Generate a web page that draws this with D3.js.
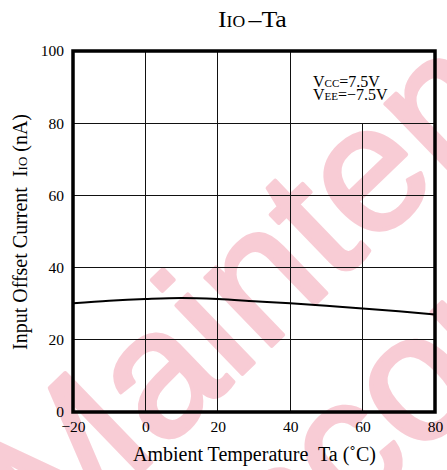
<!DOCTYPE html>
<html><head><meta charset="utf-8">
<script src="https://cdn.jsdelivr.net/npm/d3@7"></script>
<style>
html,body{margin:0;padding:0;background:#fff;}
svg{display:block;}
</style></head>
<body>
<svg id="c" width="447" height="470"></svg>
<script>
const temps = [-20, -10, 0, 10, 20, 30, 40, 50, 60, 70, 80];
const currents = [30.1, 30.8, 31.3, 31.6, 31.3, 30.7, 30.1, 29.4, 28.7, 27.9, 27.0];
const xTicks = [-20, 0, 20, 40, 60, 80];
const yTicks = [0, 20, 40, 60, 80, 100];
const xTickLabels = ["\u221220", "0", "20", "40", "60", "80"];
const yTickLabels = ["0", "20", "40", "60", "80", "100"];
const watermarkLines = ["Maintenance", "Discontinued"];

const SERIF = "'Liberation Serif','Times New Roman',serif";
const SANS = "'Liberation Sans',Arial,sans-serif";
const svg = d3.select("#c");
const L = 73, R = 435, T = 51, B = 412;
const x = d3.scaleLinear().domain([-20, 80]).range([L, R]);
const y = d3.scaleLinear().domain([0, 100]).range([B, T]);

// watermark
const wm = svg.append("g");
const wmOrigins = [[54, 556], [165, 702]];
watermarkLines.forEach((s, i) => {
  wm.append("text")
    .attr("transform", `translate(${wmOrigins[i][0]},${wmOrigins[i][1]}) rotate(-44)`)
    .attr("font-family", SANS).attr("font-size", 180)
    .style("fill", "#f8ccd5").style("stroke", "#f8ccd5").style("stroke-width", 4)
    .style("stroke-linejoin", "round").text(s);
});

// grid
const grid = svg.append("g").attr("stroke", "#111").attr("stroke-width", 1).attr("shape-rendering", "crispEdges");
[0, 20, 40, 60].forEach(v => {
  grid.append("line").attr("x1", x(v)).attr("x2", x(v))
    .attr("y1", B).attr("y2", v === 60 ? y(80) : T);
});
[20, 40, 60, 80].forEach(v => {
  grid.append("line").attr("x1", L).attr("x2", R).attr("y1", y(v)).attr("y2", y(v));
});

// curve
svg.append("path").datum(temps.map((t, i) => [t, currents[i]]))
  .attr("fill", "none").attr("stroke", "#000").attr("stroke-width", 2)
  .attr("d", d3.line().x(d => x(d[0])).y(d => y(d[1])).curve(d3.curveMonotoneX));

// frame
svg.append("rect").attr("x", L).attr("y", T).attr("width", R - L).attr("height", B - T)
  .attr("fill", "none").attr("stroke", "#000").attr("stroke-width", 3.5);

// axes labels using d3 axes
const xAxis = d3.axisBottom(x).tickValues(xTicks).tickSize(0).tickPadding(0)
  .tickFormat((d, i) => xTickLabels[i]);
const gx = svg.append("g").attr("transform", `translate(0,${B + 9})`).call(xAxis);
gx.select(".domain").remove();
gx.selectAll("text").attr("font-size", 15.5).attr("font-family", SERIF).attr("fill", "#000");

const yAxis = d3.axisLeft(y).tickValues(yTicks).tickSize(0).tickPadding(9)
  .tickFormat((d, i) => yTickLabels[i]);
const gy = svg.append("g").attr("transform", `translate(${L},0)`).call(yAxis);
gy.select(".domain").remove();
gy.selectAll("text").attr("font-size", 15.5).attr("font-family", SERIF).attr("fill", "#000");

// title
const title = svg.append("text").attr("transform", "translate(218,26.5) scale(1.1,1)")
  .attr("font-family", SERIF).attr("font-size", 23.5).attr("fill", "#000");
title.append("tspan").text("I");
title.append("tspan").attr("font-size", 16).text("IO");
title.append("tspan").attr("dx", 3).text("\u2013Ta");

// x title
svg.append("text").attr("x", 254.5).attr("y", 461).attr("text-anchor", "middle")
  .attr("font-family", SERIF).attr("font-size", 20).attr("fill", "#000")
  .text("Ambient Temperature\u00A0 Ta (\u02DAC)");

// y title
const yt = svg.append("text").attr("transform", "translate(27,232) rotate(-90)")
  .attr("text-anchor", "middle").attr("font-family", SERIF).attr("font-size", 20).attr("fill", "#000");
yt.append("tspan").text("Input Offset Current\u00A0 I");
yt.append("tspan").attr("font-size", 13).text("IO");
yt.append("tspan").text(" (nA)");

// annotation
const ann = [["CC", "=7.5V", 86.5], ["EE", "=\u22127.5V", 99.5]];
ann.forEach(a => {
  const t = svg.append("text").attr("x", 313).attr("y", a[2])
    .attr("font-family", SERIF).attr("font-size", 16).attr("fill", "#000");
  t.append("tspan").text("V");
  t.append("tspan").attr("font-size", 11).text(a[0]);
  t.append("tspan").text(a[1]);
});
</script>
</body></html>
